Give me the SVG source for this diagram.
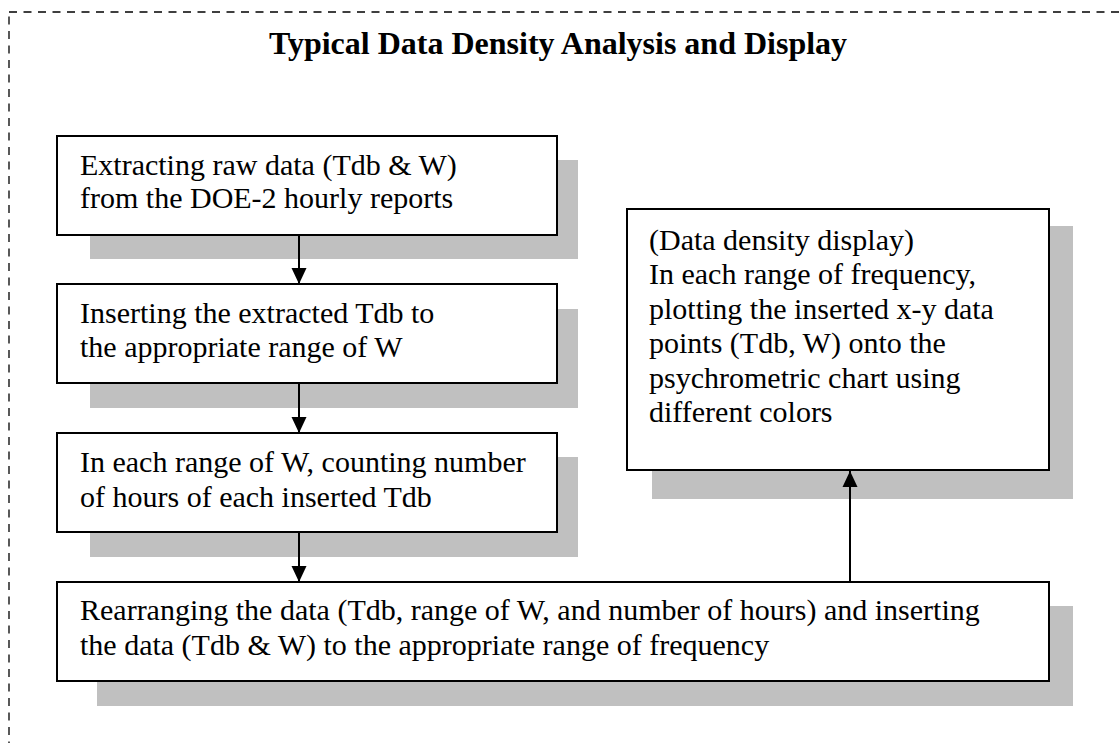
<svg xmlns="http://www.w3.org/2000/svg" width="1119" height="743" viewBox="0 0 1119 743">
<style>
.shadow{fill:#c0c0c0;stroke:none}
.box{fill:#ffffff;stroke:#000000;stroke-width:2}
.t{font-family:"Liberation Serif","Times New Roman",serif;font-size:30px;fill:#000000}
.title{font-family:"Liberation Serif","Times New Roman",serif;font-size:32px;font-weight:bold;fill:#000000}
.conn{stroke:#000000;stroke-width:2;fill:none}
</style>
<defs>
<marker id="arr" markerWidth="16" markerHeight="16" refX="16" refY="7.5" orient="auto" markerUnits="userSpaceOnUse" viewBox="0 0 16 15">
<path d="M0,0 L16,7.5 L0,15 Z" fill="#000000"/>
</marker>
</defs>
<rect x="0" y="0" width="1119" height="743" fill="#ffffff"/>
<rect id="frame" x="9" y="12" width="1200" height="800" fill="none" stroke="#000000" stroke-width="1.3" stroke-dasharray="8,6.5"/>
<text id="title" class="title" x="558" y="54" text-anchor="middle">Typical Data Density Analysis and Display</text>
<g id="node1">
<rect class="shadow" x="90" y="160" width="488" height="99"/>
<rect class="box" x="57" y="136" width="500" height="99"/>
<text class="t" x="80" y="175">Extracting raw data (Tdb &amp; W)</text>
<text class="t" x="80" y="208">from the DOE-2 hourly reports</text>
</g>
<g id="node2">
<rect class="shadow" x="90" y="309" width="488" height="99"/>
<rect class="box" x="57" y="284" width="500" height="99"/>
<text class="t" x="80" y="323">Inserting the extracted Tdb to</text>
<text class="t" x="80" y="357">the appropriate range of W</text>
</g>
<g id="node3">
<rect class="shadow" x="90" y="457" width="488" height="100"/>
<rect class="box" x="57" y="433" width="500" height="99"/>
<text class="t" x="80" y="472">In each range of W, counting number</text>
<text class="t" x="80" y="507">of hours of each inserted Tdb</text>
</g>
<g id="node4">
<rect class="shadow" x="97" y="606" width="976" height="100"/>
<rect class="box" x="57" y="582" width="992" height="99"/>
<text class="t" x="80" y="620">Rearranging the data (Tdb, range of W, and number of hours) and inserting</text>
<text class="t" x="80" y="655">the data (Tdb &amp; W) to the appropriate range of frequency</text>
</g>
<g id="node5">
<rect class="shadow" x="652" y="226" width="421" height="273"/>
<rect class="box" x="627" y="209" width="422" height="261"/>
<text class="t" x="649" y="250">(Data density display)</text>
<text class="t" x="649" y="284">In each range of frequency,</text>
<text class="t" x="649" y="319">plotting the inserted x-y data</text>
<text class="t" x="649" y="353">points (Tdb, W) onto the</text>
<text class="t" x="649" y="388">psychrometric chart using</text>
<text class="t" x="649" y="422">different colors</text>
</g>
<g id="connectors">
<line class="conn" x1="299" y1="235" x2="299" y2="284" marker-end="url(#arr)"/>
<line class="conn" x1="299" y1="383" x2="299" y2="433" marker-end="url(#arr)"/>
<line class="conn" x1="299" y1="532" x2="299" y2="582" marker-end="url(#arr)"/>
<line class="conn" x1="850" y1="582" x2="850" y2="471" marker-end="url(#arr)"/>
</g>
</svg>
